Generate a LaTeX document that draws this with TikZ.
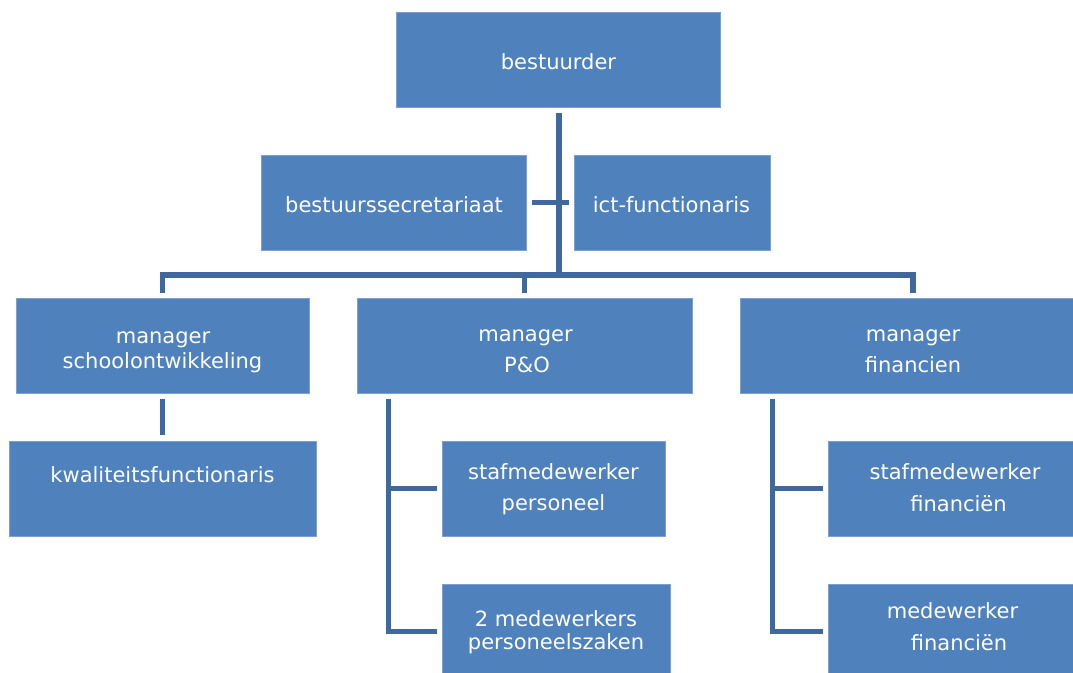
\documentclass[tikz,border=0pt]{standalone}
\usepackage{fontspec}
\setmainfont{DejaVu Sans}
\usetikzlibrary{calc}
\definecolor{boxblue}{RGB}{79,129,189}
\definecolor{boxedge}{RGB}{125,160,210}
\definecolor{linkblue}{RGB}{64,104,156}
\begin{document}
\begin{tikzpicture}[x=1pt,y=-1pt,
  box/.style={draw=boxedge, line width=0.8pt, fill=boxblue, inner sep=0pt, minimum height=95pt},
  lbl/.style={text=white, font=\fontsize{21}{25}\selectfont, anchor=base, inner sep=0pt},
  conn/.style={draw=linkblue, line width=5.5pt}]
\useasboundingbox (0,0) rectangle (1073,672);
% boxes
\node[box, minimum width=324pt] (bestuurder) at (558,59.5) {};
\node[box, minimum width=265pt] (secr) at (393.5,202.5) {};
\node[box, minimum width=196pt] (ict) at (672,202.5) {};
\node[box, minimum width=293pt] (mSchool) at (162.5,345.5) {};
\node[box, minimum width=335pt] (mPO) at (524.5,345.5) {};
\node[box, minimum width=346pt] (mFin) at (913,345.5) {};
\node[box, minimum width=307pt] (kwal) at (162.5,488.5) {};
\node[box, minimum width=223pt] (sPers) at (553.5,488.5) {};
\node[box, minimum width=228pt] (mPers) at (556,631.5) {};
\node[box, minimum width=254pt] (sFin) at (955,488.5) {};
\node[box, minimum width=254pt] (medFin) at (955,631.5) {};
% texts
\node[lbl] (t1) at (558.5,69) {bestuurder};
\node[lbl] (t2) at (394,212) {bestuurssecretariaat};
\node[lbl] (t3) at (671.5,212) {ict-functionaris};
\node[lbl] (t4a) at (163,343) {manager};
\node[lbl] (t4b) at (162.5,368) {schoolontwikkeling};
\node[lbl] (t5a) at (525.5,341) {manager};
\node[lbl] (t5b) at (527,372) {P\&O};
\node[lbl] (t6a) at (913,341) {manager};
\node[lbl] (t6b) at (913,372) {financien};
\node[lbl] (t7) at (162.5,482) {kwaliteitsfunctionaris};
\node[lbl] (t8a) at (553.5,479) {stafmedewerker};
\node[lbl] (t8b) at (553.5,510) {personeel};
\node[lbl] (t9a) at (556,626) {2 medewerkers};
\node[lbl] (t9b) at (556,649) {personeelszaken};
\node[lbl] (t10a) at (955,479) {stafmedewerker};
\node[lbl] (t10b) at (958.5,511) {financiën};
\node[lbl] (t11a) at (952.5,618) {medewerker};
\node[lbl] (t11b) at (959,650) {financiën};
% connectors
\coordinate (bus) at (559,275);
\draw[conn] ($(bestuurder.south -| bus)+(0,6)$) -- (bus);
\draw[conn] ($(mSchool.north)+(0,-5)$) |- (bus) -| ($(mFin.north)+(0,-5)$);
\draw[conn] (bus -| mPO.north) -- ($(mPO.north)+(0,-5)$);
\draw[conn] ($(secr.east)+(6,0)$) -- ($(ict.west)+(-5,0)$);
\draw[conn] ($(mSchool.south)+(0,6)$) -- ($(kwal.north)+(0,-6)$);
\coordinate (poTop) at ($(mPO.south west)+(32,6)$);
\draw[conn] (poTop) |- ($(mPers.west)+(-5,0)$);
\draw[conn] (poTop |- sPers.west) -- ($(sPers.west)+(-5,0)$);
\coordinate (finTop) at ($(mFin.south west)+(33,6)$);
\draw[conn] (finTop) |- ($(medFin.west)+(-5,0)$);
\draw[conn] (finTop |- sFin.west) -- ($(sFin.west)+(-5,0)$);
\end{tikzpicture}
\end{document}
